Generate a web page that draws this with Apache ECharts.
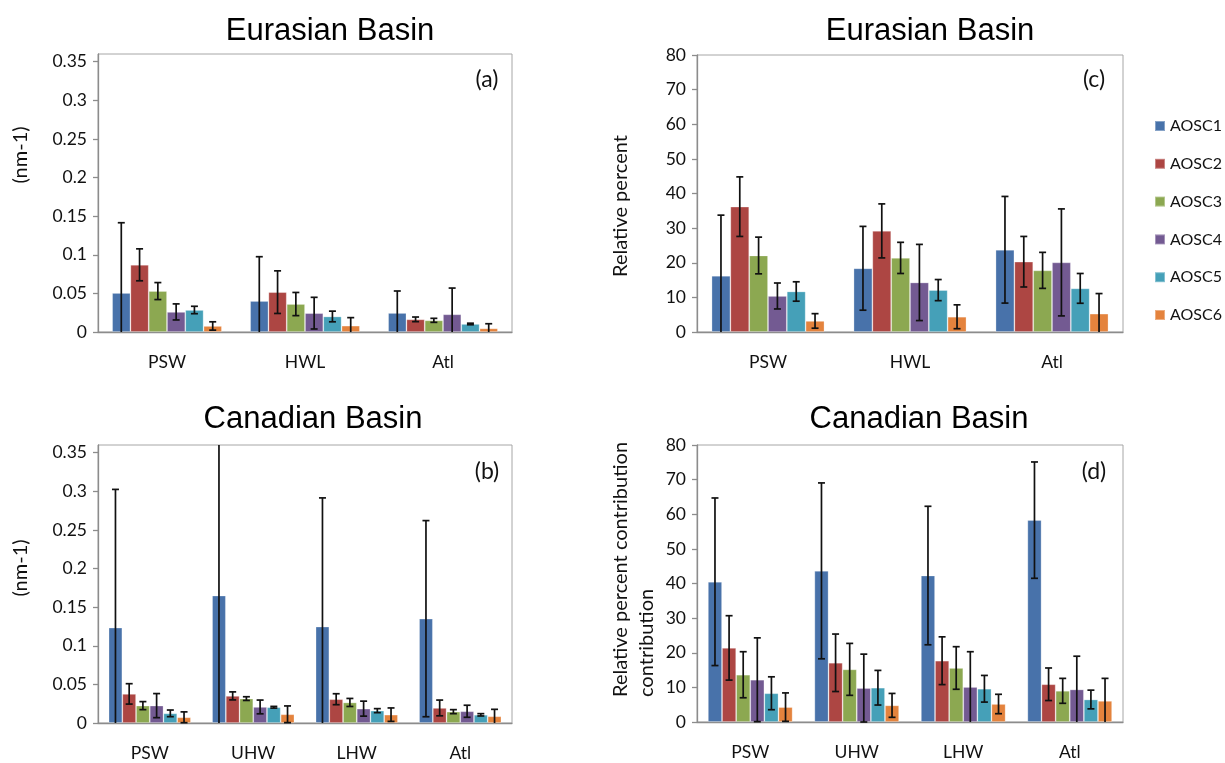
<!DOCTYPE html>
<html>
<head>
<meta charset="utf-8">
<script src="https://cdn.jsdelivr.net/npm/echarts@6/dist/echarts.min.js"></script>
<style>
  html, body { margin: 0; padding: 0; background: #fff; }
  #chart { width: 1225px; height: 763px; }
</style>
</head>
<body>
<div id="chart"></div>
<script>
// Water-mass categories for each basin
const eurasianCategories = ['PSW', 'HWL', 'Atl'];
const canadianCategories = ['PSW', 'UHW', 'LHW', 'Atl'];
const seriesNames = ['AOSC1', 'AOSC2', 'AOSC3', 'AOSC4', 'AOSC5', 'AOSC6'];

// y tick labels
const absTicks = [0, 0.05, 0.1, 0.15, 0.2, 0.25, 0.3, 0.35];
const pctTicks = [0, 10, 20, 30, 40, 50, 60, 70, 80];

// (a) Eurasian Basin, absorption (nm-1): rows = AOSC1..6, columns = categories
const eurasianAbsMean = [
  [0.0505, 0.0401, 0.0246],
  [0.087, 0.0516, 0.0164],
  [0.053, 0.0362, 0.0151],
  [0.026, 0.0244, 0.0229],
  [0.0285, 0.0201, 0.0104],
  [0.0078, 0.0082, 0.0047]
];
const eurasianAbsErr = [
  [0.091, 0.0574, 0.0285],
  [0.0207, 0.0276, 0.003],
  [0.011, 0.015, 0.0026],
  [0.0104, 0.0205, 0.034],
  [0.0048, 0.0069, 0.001],
  [0.0054, 0.0104, 0.006]
];

// (b) Canadian Basin, absorption (nm-1)
const canadianAbsMean = [
  [0.1235, 0.165, 0.1248, 0.1351],
  [0.0377, 0.0351, 0.0308, 0.0195],
  [0.0225, 0.0316, 0.0266, 0.0147],
  [0.0225, 0.0208, 0.0186, 0.0152],
  [0.0125, 0.0204, 0.016, 0.0106],
  [0.0074, 0.0113, 0.0108, 0.0087]
];
const canadianAbsErr = [
  [0.179, 0.21, 0.1667, 0.127],
  [0.0132, 0.0052, 0.0071, 0.0102],
  [0.0052, 0.0024, 0.0052, 0.0026],
  [0.0156, 0.0089, 0.0097, 0.0078],
  [0.0043, 0.0011, 0.0026, 0.0015],
  [0.007, 0.0108, 0.0087, 0.009]
];

// (c) Eurasian Basin, relative percent
const eurasianPctMean = [
  [16.25, 18.4, 23.75],
  [36.2, 29.2, 20.3],
  [22.1, 21.4, 17.8],
  [10.4, 14.3, 20.1],
  [11.7, 12.1, 12.6],
  [3.2, 4.4, 5.3]
];
const eurasianPctErr = [
  [17.5, 12.1, 15.4],
  [8.6, 7.8, 7.3],
  [5.3, 4.5, 5.2],
  [3.75, 11, 15.45],
  [2.8, 3.05, 4.3],
  [2.1, 3.45, 5.8]
];

// (d) Canadian Basin, relative percent contribution
const canadianPctMean = [
  [40.5, 43.65, 42.3, 58.3],
  [21.4, 17.1, 17.7, 10.9],
  [13.65, 15.2, 15.6, 9.0],
  [12.2, 9.8, 10.1, 9.4],
  [8.3, 9.9, 9.6, 6.5],
  [4.3, 4.8, 5.2, 6.1]
];
const canadianPctErr = [
  [24.2, 25.4, 20, 16.8],
  [9.3, 8.3, 6.9, 4.7],
  [6.65, 7.5, 6.15, 3.6],
  [12.1, 9.8, 10.2, 9.6],
  [4.75, 5.0, 3.85, 2.7],
  [4.1, 3.45, 2.8, 6.5]
];

const colors = ['#4872AA', '#AD4643', '#8CA851', '#735A92', '#45A0B8', '#E4833D'];
const CAT_GAP = 0.205;        // fraction of the category band left empty
const LABEL_FONT = 'Lato, "Open Sans", sans-serif';
const TITLE_FONT = '"Liberation Sans", Arial, sans-serif';

const panels = [
  { cats: eurasianCategories, mean: eurasianAbsMean, err: eurasianAbsErr, max: 0.36, ticks: absTicks,
    grid: { left: 98, top: 54, width: 414, height: 278 } },
  { cats: canadianCategories, mean: canadianAbsMean, err: canadianAbsErr, max: 0.36, ticks: absTicks,
    grid: { left: 98, top: 445, width: 414, height: 278 } },
  { cats: eurasianCategories, mean: eurasianPctMean, err: eurasianPctErr, max: 80, ticks: pctTicks,
    grid: { left: 697, top: 55, width: 426, height: 277 } },
  { cats: canadianCategories, mean: canadianPctMean, err: canadianPctErr, max: 80, ticks: pctTicks,
    grid: { left: 697, top: 445, width: 426, height: 277 } }
];

// Error bar (mean +/- err), clipped to the plot box like the bars themselves
function renderErrorBar(params, api) {
  const cat = api.value(0), k = api.value(1), v = api.value(2), e = api.value(3);
  const band = api.size([1, 0])[0];
  const group = band * (1 - CAT_GAP);
  const bw = group / 6;
  const cx = api.coord([cat, 0])[0] - group / 2 + bw * (k + 0.5);
  const cs = params.coordSys;
  const yMin = cs.y, yMax = cs.y + cs.height;
  let yTop = api.coord([cat, v + e])[1];
  let yBot = api.coord([cat, v - e])[1];
  const capTop = yTop >= yMin;
  const capBot = yBot <= yMax;
  yTop = Math.max(yTop, yMin);
  yBot = Math.min(yBot, yMax);
  const style = { stroke: '#111', lineWidth: 1.7 };
  const half = 3.5;
  const children = [
    { type: 'line', shape: { x1: cx, y1: yTop, x2: cx, y2: yBot }, style }
  ];
  if (capTop) children.push({ type: 'line', shape: { x1: cx - half, y1: yTop, x2: cx + half, y2: yTop }, style });
  if (capBot) children.push({ type: 'line', shape: { x1: cx - half, y1: yBot, x2: cx + half, y2: yBot }, style });
  return { type: 'group', children };
}

const grids = [], xAxes = [], yAxes = [], series = [];
panels.forEach((p, gi) => {
  grids.push(Object.assign({ show: true, borderColor: '#A6A6A6', borderWidth: 1, backgroundColor: 'transparent' }, p.grid));
  xAxes.push({
    type: 'category', gridIndex: gi, data: p.cats,
    axisLine: { lineStyle: { color: '#8C8C8C', width: 1.3 } },
    axisTick: { length: 5, lineStyle: { color: '#8C8C8C', width: 1.3 } },
    axisLabel: { color: '#111', fontFamily: LABEL_FONT, fontSize: 17.5, margin: 21 }
  });
  yAxes.push({
    type: 'value', gridIndex: gi, min: 0, max: p.max,
    axisLine: { show: true, lineStyle: { color: '#8C8C8C', width: 1.3 } },
    axisTick: { show: true, length: 5, customValues: p.ticks, lineStyle: { color: '#8C8C8C', width: 1.3 } },
    axisLabel: { color: '#111', fontFamily: LABEL_FONT, fontSize: 17.5, margin: 11, customValues: p.ticks },
    splitLine: { show: false }
  });
  seriesNames.forEach((name, k) => {
    series.push({
      type: 'bar', name, xAxisIndex: gi, yAxisIndex: gi,
      data: p.mean[k],
      barGap: '0%', barCategoryGap: (CAT_GAP * 100) + '%',
      itemStyle: { color: colors[k], borderColor: 'rgba(255,255,255,0.35)', borderWidth: 0.8 },
      emphasis: { disabled: true },
      z: 2
    });
  });
  const errData = [];
  p.cats.forEach((c, ci) => {
    seriesNames.forEach((n, k) => errData.push([ci, k, p.mean[k][ci], p.err[k][ci]]));
  });
  series.push({
    type: 'custom', name: 'error', xAxisIndex: gi, yAxisIndex: gi,
    renderItem: renderErrorBar, data: errData,
    encode: { x: 0, y: 2 }, z: 5, silent: true
  });
});

const titleStyle = { fontFamily: TITLE_FONT, fontSize: 31, fill: '#000', textAlign: 'center', textVerticalAlign: 'middle' };
const axisNameStyle = { fontFamily: LABEL_FONT, fontSize: 20, fill: '#111', textVerticalAlign: 'middle' };
const tagStyle = { fontFamily: LABEL_FONT, fontSize: 23, fill: '#111', textAlign: 'center', textVerticalAlign: 'middle' };

const graphics = [
  { type: 'text', x: 330, y: 31, style: Object.assign({ text: 'Eurasian Basin' }, titleStyle) },
  { type: 'text', x: 930, y: 31, style: Object.assign({ text: 'Eurasian Basin' }, titleStyle) },
  { type: 'text', x: 313, y: 419, style: Object.assign({ text: 'Canadian Basin' }, titleStyle) },
  { type: 'text', x: 919, y: 419, style: Object.assign({ text: 'Canadian Basin' }, titleStyle) },
  { type: 'text', x: 21, y: 155, rotation: Math.PI / 2, style: Object.assign({ text: '(nm-1)', textAlign: 'center' }, axisNameStyle) },
  { type: 'text', x: 21, y: 568, rotation: Math.PI / 2, style: Object.assign({ text: '(nm-1)', textAlign: 'center' }, axisNameStyle) },
  { type: 'text', x: 621, y: 206, rotation: Math.PI / 2, style: Object.assign({ text: 'Relative percent', textAlign: 'center' }, axisNameStyle) },
  { type: 'text', x: 621, y: 697, rotation: Math.PI / 2, style: Object.assign({ text: 'Relative percent contribution', textAlign: 'left' }, axisNameStyle) },
  { type: 'text', x: 647, y: 697, rotation: Math.PI / 2, style: Object.assign({ text: 'contribution', textAlign: 'left' }, axisNameStyle) },
  { type: 'text', x: 487, y: 80, style: Object.assign({ text: '(a)' }, tagStyle) },
  { type: 'text', x: 487, y: 472, style: Object.assign({ text: '(b)' }, tagStyle) },
  { type: 'text', x: 1094, y: 80, style: Object.assign({ text: '(c)' }, tagStyle) },
  { type: 'text', x: 1094, y: 472, style: Object.assign({ text: '(d)' }, tagStyle) }
];

const chart = echarts.init(document.getElementById('chart'), null, { renderer: 'canvas' });
chart.setOption({
  animation: false,
  backgroundColor: '#fff',
  color: colors,
  grid: grids,
  xAxis: xAxes,
  yAxis: yAxes,
  series,
  legend: {
    data: seriesNames,
    orient: 'vertical',
    left: 1154, top: 118, padding: 0,
    itemWidth: 10, itemHeight: 10, itemGap: 21.8,
    icon: 'rect',
    textStyle: { fontFamily: LABEL_FONT, fontSize: 16, color: '#111', lineHeight: 16 }
  },
  graphic: graphics
});
</script>
</body>
</html>
